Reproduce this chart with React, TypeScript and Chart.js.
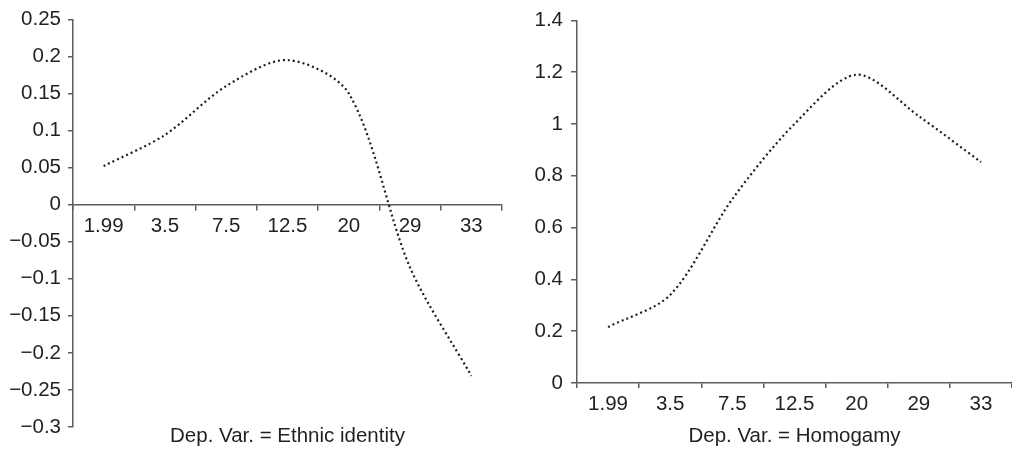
import React, { useEffect, useRef } from "react";
import { Chart, registerables } from "chart.js";

Chart.register(...registerables);

const categories = ["1.99", "3.5", "7.5", "12.5", "20", "29", "33"];
const ethnicIdentity = [0.052, 0.094, 0.16, 0.195, 0.15, -0.085, -0.231];
const homogamy = [0.216, 0.34, 0.71, 1.0, 1.19, 1.03, 0.853];
const leftCaption = "Dep. Var. = Ethnic identity";
const rightCaption = "Dep. Var. = Homogamy";

const FONT = "'Liberation Sans', Arial, Helvetica, sans-serif";
const FS = 20.5;
const TEXT = "#231f20";
const AXIS = "#5c5c5c";
const LINE = "#1e1e1e";

const fmt = (v: number) => {
  const a = Number(Math.abs(v).toFixed(2)).toString();
  return (v < -1e-9 ? "\u2212" : "") + a;
};

function makeDataset(data: number[]) {
  return {
    data,
    borderColor: LINE,
    borderWidth: 2.2,
    borderDash: [2, 3],
    pointRadius: 0,
    tension: 0.3,
    fill: false,
  };
}

function LeftChart() {
  const ref = useRef<HTMLCanvasElement>(null);
  useEffect(() => {
    const chart = new Chart(ref.current!, {
      type: "line",
      data: { labels: categories, datasets: [makeDataset(ethnicIdentity)] },
      options: {
        animation: false,
        responsive: false,
        devicePixelRatio: 1,
        layout: { padding: { top: 14, right: 3, bottom: 0, left: 0 } },
        plugins: { legend: { display: false }, tooltip: { enabled: false } },
        scales: {
          y: {
            min: -0.3,
            max: 0.25,
            afterFit: (s: any) => {
              s.width = 73;
            },
            ticks: {
              stepSize: 0.05,
              color: TEXT,
              font: { family: FONT, size: FS },
              padding: 7,
              callback: (v: any) => fmt(Number(v)),
            },
            grid: { drawOnChartArea: false, tickLength: 5, color: AXIS, lineWidth: 1.5 },
            border: { color: AXIS, width: 1.5 },
          },
          x: {
            type: "category",
            position: { y: 0 } as any,
            offset: true,
            ticks: { color: TEXT, font: { family: FONT, size: FS }, padding: 4, maxRotation: 0, autoSkip: false },
            grid: { offset: true, drawOnChartArea: false, tickLength: 5, color: AXIS, lineWidth: 1.5 },
            border: { color: AXIS, width: 1.5 },
          },
          x2: {
            type: "category",
            position: "bottom",
            labels: categories,
            offset: true,
            afterFit: (s: any) => {
              s.height = 23;
            },
            ticks: { display: false },
            grid: { display: false },
            border: { display: false },
            title: {
              display: true,
              text: leftCaption,
              color: TEXT,
              font: { family: FONT, size: FS },
              padding: { top: 0, bottom: 1 },
            },
          },
        },
      },
    });
    return () => chart.destroy();
  }, []);
  return <canvas ref={ref} width={505} height={450} style={{ position: "absolute", left: 0, top: 0 }} />;
}

function RightChart() {
  const ref = useRef<HTMLCanvasElement>(null);
  useEffect(() => {
    const chart = new Chart(ref.current!, {
      type: "line",
      data: { labels: categories, datasets: [makeDataset(homogamy)] },
      options: {
        animation: false,
        responsive: false,
        devicePixelRatio: 1,
        layout: { padding: { top: 14, right: 0, bottom: 0, left: 0 } },
        plugins: { legend: { display: false }, tooltip: { enabled: false } },
        scales: {
          y: {
            min: 0,
            max: 1.4,
            afterFit: (s: any) => {
              s.width = 72;
            },
            ticks: {
              stepSize: 0.2,
              color: TEXT,
              font: { family: FONT, size: FS },
              padding: 8,
              callback: (v: any) => fmt(Number(v)),
            },
            grid: { drawOnChartArea: false, tickLength: 6, color: AXIS, lineWidth: 1.5 },
            border: { color: AXIS, width: 1.5 },
          },
          x: {
            type: "category",
            position: "bottom",
            offset: true,
            afterFit: (s: any) => {
              s.height = 67;
            },
            ticks: { color: TEXT, font: { family: FONT, size: FS }, padding: 4, maxRotation: 0, autoSkip: false },
            grid: { offset: true, drawOnChartArea: false, tickLength: 5, color: AXIS, lineWidth: 1.5 },
            border: { color: AXIS, width: 1.5 },
            title: {
              display: true,
              text: rightCaption,
              color: TEXT,
              font: { family: FONT, size: FS },
              padding: { top: 0, bottom: 1 },
            },
          },
        },
      },
    });
    return () => chart.destroy();
  }, []);
  return <canvas ref={ref} width={507} height={450} style={{ position: "absolute", left: 505, top: 0 }} />;
}

export default function App() {
  return (
    <div style={{ position: "fixed", left: 0, top: 0, width: 1012, height: 450, background: "#fff", overflow: "hidden" }}>
      <LeftChart />
      <RightChart />
    </div>
  );
}
